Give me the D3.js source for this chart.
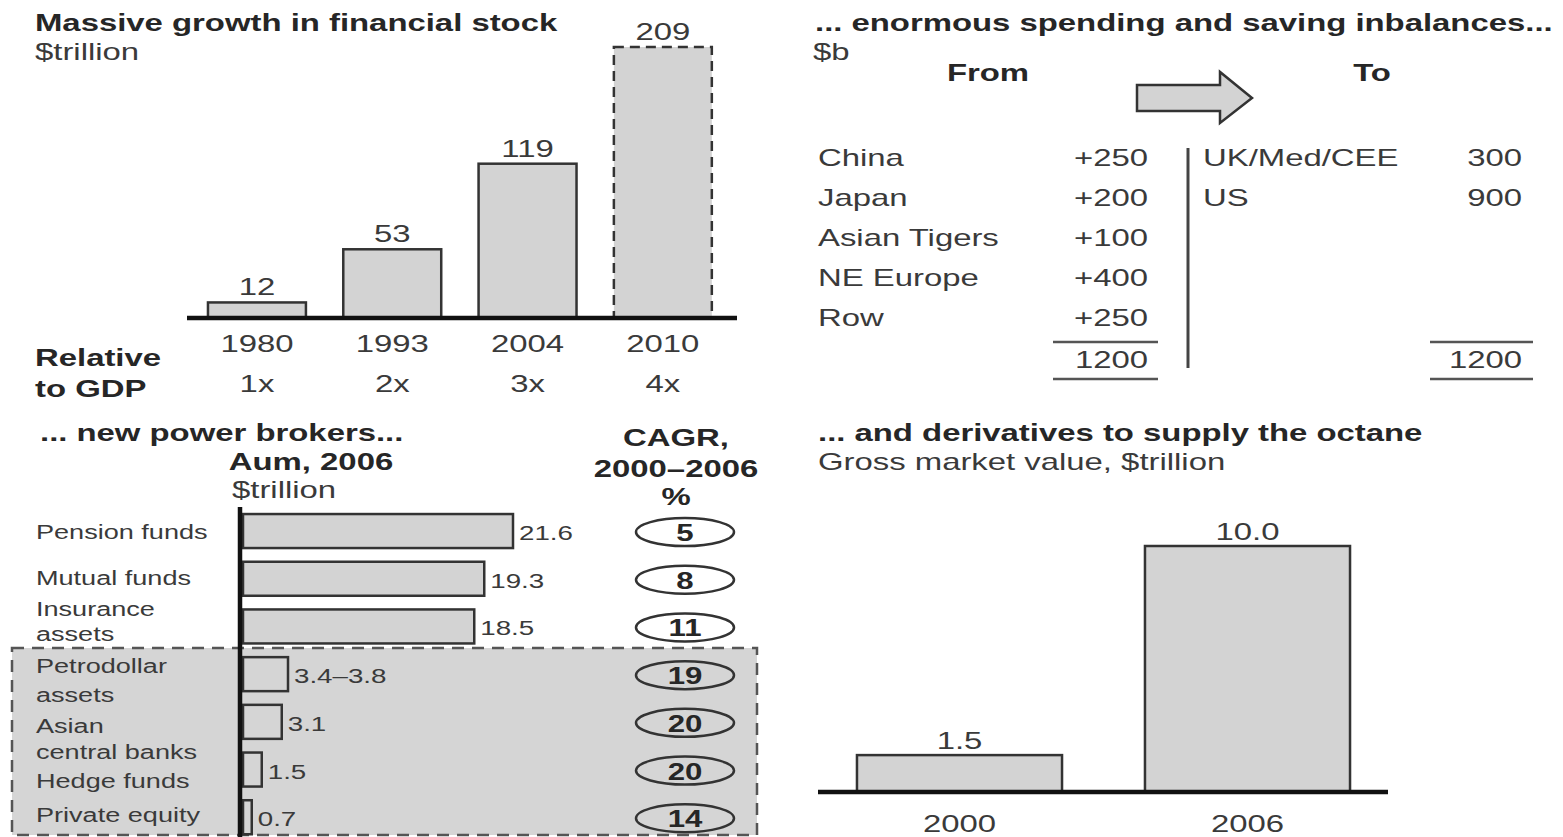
<!DOCTYPE html>
<html><head><meta charset="utf-8">
<script src="https://cdn.jsdelivr.net/npm/d3@7"></script>
<style>html,body{margin:0;padding:0;background:#fff;}svg{display:block;}</style>
</head><body>
<script>
// ---------- DATA ----------
const growthYears = ["1980", "1993", "2004", "2010"];
const growthValues = [12, 53, 119, 209];
const gdpMultiples = ["1x", "2x", "3x", "4x"];

const fromRegions = ["China", "Japan", "Asian Tigers", "NE Europe", "Row"];
const fromValues = [250, 200, 100, 400, 250];
const toRegions = ["UK/Med/CEE", "US"];
const toValues = [300, 900];

const brokerLabels = [["Pension funds"], ["Mutual funds"], ["Insurance", "assets"], ["Petrodollar", "assets"], ["Asian", "central banks"], ["Hedge funds"], ["Private equity"]];
const brokerValues = [21.6, 19.3, 18.5, 3.6, 3.1, 1.5, 0.7];
const brokerValueLabels = ["21.6", "19.3", "18.5", "3.4–3.8", "3.1", "1.5", "0.7"];
const brokerCagr = [5, 8, 11, 19, 20, 20, 14];

const derivYears = ["2000", "2006"];
const derivValues = [1.5, 10.0];

// ---------- SETUP ----------
const W = 1563, H = 837, SX = 1.37;
const FONT = "'Liberation Sans', Arial, Helvetica, sans-serif";
const TXT = "#3a3a3a", BOLD = "#262626", BAR = "#d3d3d3", EDGE = "#333";

const svg = d3.select("body").append("svg").attr("width", W).attr("height", H);
svg.append("rect").attr("width", W).attr("height", H).attr("fill", "#fff");

function txt(g, x, y, s, o = {}) {
  return g.append("text")
    .attr("transform", `translate(${x},${y}) scale(${o.sx || SX},1)`)
    .attr("font-family", FONT)
    .attr("font-size", o.size || 24)
    .attr("font-weight", o.bold ? "bold" : "normal")
    .attr("text-anchor", o.anchor || "start")
    .attr("fill", o.fill || (o.bold ? BOLD : TXT))
    .text(s);
}

// ---------- PANEL 1 ----------
const p1 = svg.append("g");
txt(p1, 35, 31, "Massive growth in financial stock", { bold: true, size: 24 });
txt(p1, 35, 60, "$trillion", { size: 24 });

const x1 = d3.scaleBand().domain(growthYears).range([189.3, 730.5]).paddingInner(0.276).paddingOuter(0.138);
const y1 = d3.scaleLinear().domain([0, 209]).range([318, 47]);

p1.selectAll("rect.bar").data(growthValues).join("rect")
  .attr("x", (d, i) => x1(growthYears[i]))
  .attr("y", d => y1(d))
  .attr("width", x1.bandwidth())
  .attr("height", d => y1(0) - y1(d))
  .attr("fill", BAR).attr("stroke", EDGE).attr("stroke-width", 2.5)
  .attr("stroke-dasharray", (d, i) => i === 3 ? "10,6" : null);

p1.append("line").attr("x1", 187).attr("x2", 737).attr("y1", y1(0)).attr("y2", y1(0))
  .attr("stroke", "#111").attr("stroke-width", 4.5);

growthValues.forEach((v, i) => {
  const cx = x1(growthYears[i]) + x1.bandwidth() / 2;
  txt(p1, cx, y1(v) - 7, String(v), { anchor: "middle", size: 24 });
  txt(p1, cx, 352, growthYears[i], { anchor: "middle", size: 24 });
  txt(p1, cx, 392, gdpMultiples[i], { anchor: "middle", size: 24 });
});
txt(p1, 35, 366, "Relative", { bold: true, size: 24 });
txt(p1, 35, 397, "to GDP", { bold: true, size: 24 });

// ---------- PANEL 2 ----------
const p2 = svg.append("g");
txt(p2, 815, 31, "... enormous spending and saving inbalances...", { bold: true, size: 24 });
txt(p2, 813, 60, "$b", { size: 24 });
txt(p2, 988, 81, "From", { bold: true, size: 24, anchor: "middle" });
txt(p2, 1372, 81, "To", { bold: true, size: 24, anchor: "middle" });

p2.append("path")
  .attr("d", "M1137,85 L1220,85 L1220,72 L1252,98 L1220,123 L1220,111 L1137,111 Z")
  .attr("fill", BAR).attr("stroke", EDGE).attr("stroke-width", 2.5).attr("stroke-linejoin", "miter");

const y2 = d3.scalePoint().domain(d3.range(fromRegions.length)).range([166, 326]);
fromRegions.forEach((r, i) => {
  txt(p2, 818, y2(i), r, { size: 24 });
  txt(p2, 1148, y2(i), "+" + fromValues[i], { size: 24, anchor: "end" });
});
toRegions.forEach((r, i) => {
  txt(p2, 1203, y2(i), r, { size: 24 });
  txt(p2, 1522, y2(i), String(toValues[i]), { size: 24, anchor: "end" });
});
p2.append("line").attr("x1", 1188).attr("x2", 1188).attr("y1", 148).attr("y2", 368)
  .attr("stroke", "#444").attr("stroke-width", 3);
[[1053, 1158, 1148, d3.sum(fromValues)], [1430, 1533, 1522, d3.sum(toValues)]].forEach(([a, b, tx, tot]) => {
  p2.append("line").attr("x1", a).attr("x2", b).attr("y1", 342).attr("y2", 342).attr("stroke", "#555").attr("stroke-width", 2.5);
  p2.append("line").attr("x1", a).attr("x2", b).attr("y1", 379).attr("y2", 379).attr("stroke", "#555").attr("stroke-width", 2.5);
  txt(p2, tx, 368, String(tot), { size: 24, anchor: "end" });
});

// ---------- PANEL 3 ----------
const p3 = svg.append("g");
const y3 = d3.scaleBand().domain(d3.range(brokerValues.length)).range([507.2, 841.1]).paddingInner(0.287).paddingOuter(0.1435);
const x3 = d3.scaleLinear().domain([0, 21.6]).range([243, 513]);

// shaded dashed box for the new players (rows 3..6)
p3.append("rect").attr("x", 12).attr("y", 648).attr("width", 745).attr("height", 187)
  .attr("fill", "#d5d5d5").attr("stroke", "#555").attr("stroke-width", 2.5).attr("stroke-dasharray", "12,8");

txt(p3, 40, 441, "... new power brokers...", { bold: true, size: 24 });
txt(p3, 311, 470, "Aum, 2006", { bold: true, size: 24, anchor: "middle" });
txt(p3, 232, 498, "$trillion", { size: 24 });
txt(p3, 676, 446, "CAGR,", { bold: true, size: 24, anchor: "middle" });
txt(p3, 676, 477, "2000–2006", { bold: true, size: 24, anchor: "middle" });
txt(p3, 676, 505, "%", { bold: true, size: 24, anchor: "middle" });

p3.selectAll("rect.bar").data(brokerValues).join("rect")
  .attr("x", x3(0)).attr("y", (d, i) => y3(i))
  .attr("width", d => x3(d) - x3(0)).attr("height", y3.bandwidth())
  .attr("fill", (d, i) => i < 3 ? BAR : "#d5d5d5").attr("stroke", EDGE).attr("stroke-width", 2.5);

p3.append("line").attr("x1", 240).attr("x2", 240).attr("y1", 507).attr("y2", 837)
  .attr("stroke", "#111").attr("stroke-width", 4.5);

// label line baselines relative to band centre (layout)
const labelDy = [[8], [6], [-10, 15], [-1, 28], [11, 37], [18], [5]];
brokerValues.forEach((v, i) => {
  const cy = y3(i) + y3.bandwidth() / 2;
  brokerLabels[i].forEach((line, j) => txt(p3, 36, cy + labelDy[i][j], line, { size: 21, sx: 1.29 }));
  txt(p3, x3(v) + 6, cy + 9, brokerValueLabels[i], { size: 21, sx: 1.32 });
  p3.append("ellipse").attr("cx", 685).attr("cy", cy + 1).attr("rx", 49).attr("ry", 14)
    .attr("fill", i < 3 ? "#fff" : "none").attr("stroke", EDGE).attr("stroke-width", 2.5);
  txt(p3, 685, cy + 10, String(brokerCagr[i]), { bold: true, size: 24, anchor: "middle", sx: 1.3 });
});

// ---------- PANEL 4 ----------
const p4 = svg.append("g");
txt(p4, 818, 441, "... and derivatives to supply the octane", { bold: true, size: 24 });
txt(p4, 818, 470, "Gross market value, $trillion", { size: 24 });

const x4 = d3.scaleBand().domain(derivYears).range([815.5, 1391.5]).paddingInner(0.288).paddingOuter(0.144);
const y4 = d3.scaleLinear().domain([0, 10]).range([792, 546]);
p4.selectAll("rect.bar").data(derivValues).join("rect")
  .attr("x", (d, i) => x4(derivYears[i])).attr("y", d => y4(d))
  .attr("width", x4.bandwidth()).attr("height", d => y4(0) - y4(d))
  .attr("fill", BAR).attr("stroke", EDGE).attr("stroke-width", 2.5);
p4.append("line").attr("x1", 818).attr("x2", 1388).attr("y1", y4(0)).attr("y2", y4(0))
  .attr("stroke", "#111").attr("stroke-width", 4.5);
derivValues.forEach((v, i) => {
  const cx = x4(derivYears[i]) + x4.bandwidth() / 2;
  txt(p4, cx, y4(v) - 6, v.toFixed(1), { anchor: "middle", size: 24 });
  txt(p4, cx, 832, derivYears[i], { anchor: "middle", size: 24 });
});
</script>
</body></html>
